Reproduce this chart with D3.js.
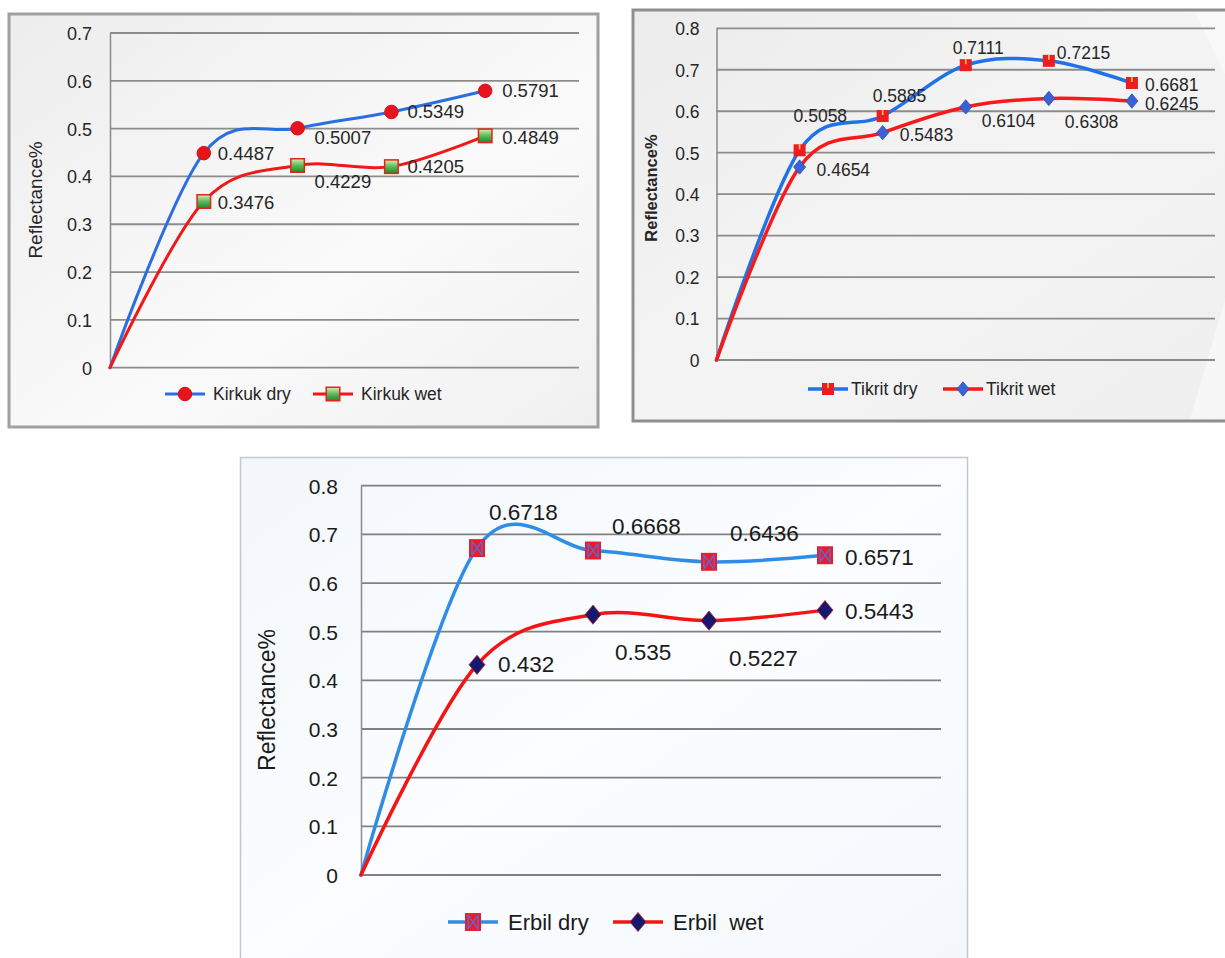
<!DOCTYPE html>
<html><head><meta charset="utf-8">
<script src="https://cdn.jsdelivr.net/npm/d3@7"></script>
<style>html,body{margin:0;padding:0;background:#fff;} svg{display:block}</style>
</head><body>
<svg id="chart" width="1225" height="958"></svg>
<script>
// Reflectance values; the first value of each series is the origin of the curve
const kirkukDry = [0, 0.4487, 0.5007, 0.5349, 0.5791];
const kirkukWet = [0, 0.3476, 0.4229, 0.4205, 0.4849];
const tikritDry = [0, 0.5058, 0.5885, 0.7111, 0.7215, 0.6681];
const tikritWet = [0, 0.4654, 0.5483, 0.6104, 0.6308, 0.6245];
const erbilDry  = [0, 0.6718, 0.6668, 0.6436, 0.6571];
const erbilWet  = [0, 0.432, 0.535, 0.5227, 0.5443];

// Y-axis tick values
const kirkukTicks = [0, 0.1, 0.2, 0.3, 0.4, 0.5, 0.6, 0.7];
const tikritTicks = [0, 0.1, 0.2, 0.3, 0.4, 0.5, 0.6, 0.7, 0.8];
const erbilTicks  = [0, 0.1, 0.2, 0.3, 0.4, 0.5, 0.6, 0.7, 0.8];

// Series names
const kirkukNames = ["Kirkuk dry", "Kirkuk wet"];
const tikritNames = ["Tikrit dry", "Tikrit wet"];
const erbilNames  = ["Erbil dry", "Erbil  wet"];
const axisTitle = "Reflectance%";

const svg = d3.select("#chart");
const defs = svg.append("defs");

function grad(id, stops, x2, y2) {
  const g = defs.append("linearGradient").attr("id", id)
    .attr("x1", 0).attr("y1", 0).attr("x2", x2).attr("y2", y2);
  stops.forEach(s => g.append("stop").attr("offset", s[0]).attr("stop-color", s[1]));
}
grad("bg1", [[0, "#ededed"], [0.45, "#f7f7f7"], [0.6, "#fafafa"], [1, "#f0f0f0"]], 1, 1);
grad("bg2", [[0, "#ececec"], [0.5, "#f4f4f4"], [1, "#efefef"]], 1, 1);
grad("bg3", [[0, "#f3f7fb"], [0.5, "#fbfdff"], [1, "#f4f8fc"]], 1, 1);
grad("greenFill", [[0, "#d8f0b0"], [0.5, "#5cb85c"], [1, "#1f8a2a"]], 0, 1);

// Marker painters
const markers = {
  circle(g, s) {
    g.append("circle").attr("r", s / 2).attr("fill", "#e8141c").attr("stroke", "#d0101a").attr("stroke-width", 1);
  },
  greenSquare(g, s) {
    g.append("rect").attr("x", -s / 2).attr("y", -s / 2).attr("width", s).attr("height", s)
      .attr("fill", "url(#greenFill)").attr("stroke", "#e2231a").attr("stroke-width", 1.5);
  },
  bangSquare(g, s) {
    g.append("rect").attr("x", -s / 2).attr("y", -s / 2).attr("width", s).attr("height", s)
      .attr("fill", "#ee1c1c");
    g.append("line").attr("x1", 0).attr("x2", 0).attr("y1", -s / 2).attr("y2", -1)
      .attr("stroke", "#f7c36a").attr("stroke-width", 1.6);
  },
  diamond(g, s) {
    g.append("path").attr("d", `M0,${-s * 0.6}L${s / 2},0L0,${s * 0.6}L${-s / 2},0Z`)
      .attr("fill", "#3b62d4").attr("stroke", "#2a4fb8").attr("stroke-width", 0.8);
  },
  xSquare(g, s) {
    const w = s, h = s * 1.12;
    g.append("rect").attr("x", -w / 2).attr("y", -h / 2).attr("width", w).attr("height", h)
      .attr("fill", "#ea1c2c");
    g.append("path").attr("d", `M${-w / 2 + 3},${-h / 2 + 2}L${w / 2 - 3},${h / 2 - 2}M${w / 2 - 3},${-h / 2 + 2}L${-w / 2 + 3},${h / 2 - 2}M${-w/2+3},${-h/2+2}L${-w/2+3},${h/2-2}M${w/2-3},${-h/2+2}L${w/2-3},${h/2-2}`)
      .attr("stroke", "#5a6bd8").attr("stroke-width", 1.3).attr("fill", "none");
  },
  darkDiamond(g, s) {
    g.append("path").attr("d", `M0,${-s * 0.6}L${s / 2},0L0,${s * 0.6}L${-s / 2},0Z`)
      .attr("fill", "#16186e").attr("stroke", "#c0202a").attr("stroke-width", 0.8);
  }
};

function drawPanel(p) {
  const g = svg.append("g");
  // frame
  g.append("rect").attr("x", p.frame[0]).attr("y", p.frame[1]).attr("width", p.frame[2]).attr("height", p.frame[3])
    .attr("fill", p.bg).attr("stroke", p.border).attr("stroke-width", p.borderW);
  if (p.sheen) g.append("path").attr("d", p.sheen).attr("fill", "#ffffff").attr("opacity", 0.45);

  const n = p.series[0].values.length;
  const x = d3.scaleLinear().domain([0, n]).range([p.left, p.right]);
  const y = d3.scaleLinear().domain([0, d3.max(p.ticks)]).range([p.bottom, p.top]);

  // horizontal gridlines
  g.append("g").selectAll("line").data(p.ticks).join("line")
    .attr("x1", p.left).attr("x2", p.right)
    .attr("y1", d => y(d)).attr("y2", d => y(d))
    .attr("stroke", p.gridColor).attr("stroke-width", p.gridW);

  // left axis with tick labels
  const ax = g.append("g").attr("transform", `translate(${p.left},0)`)
    .call(d3.axisLeft(y).tickValues(p.ticks).tickFormat(d3.format("")).tickSize(0).tickPadding(p.tickPad));
  ax.select(".domain").attr("stroke", p.axisColor).attr("stroke-width", 1.5);
  ax.selectAll("text").attr("font-family", p.font).attr("font-size", p.tickSize).attr("fill", p.textColor)
    .attr("dy", "0.36em");

  // axis title
  g.append("text").attr("transform", `translate(${p.titleX},${p.titleY}) rotate(-90)`)
    .attr("text-anchor", "middle").attr("dominant-baseline", "central")
    .attr("font-family", p.font).attr("font-size", p.titleSize).attr("font-weight", p.titleWeight)
    .attr("fill", p.textColor).text(axisTitle);

  const line = d3.line().x((d, i) => x(i)).y(d => y(d)).curve(d3.curveCardinal.tension(0));

  p.series.forEach(s => {
    g.append("path").datum(s.values).attr("d", line)
      .attr("fill", "none").attr("stroke", s.color).attr("stroke-width", p.lineW)
      .attr("stroke-linejoin", "round").attr("stroke-linecap", "round");
  });

  p.series.forEach(s => {
    s.values.forEach((v, i) => {
      if (i === 0) return;
      const m = g.append("g").attr("transform", `translate(${x(i)},${y(v)})`);
      markers[s.marker](m, p.markerSize);
      const off = s.labelOffset[i - 1];
      g.append("text").attr("x", x(i) + off[0]).attr("y", y(v) + off[1])
        .attr("dominant-baseline", "central")
        .attr("font-family", p.font).attr("font-size", p.labelSize).attr("fill", p.textColor)
        .text(v);
    });
  });

  // legend
  p.series.forEach((s, k) => {
    const lx = p.legend[k];
    const ly = p.legendY;
    g.append("line").attr("x1", lx).attr("x2", lx + p.legendLine).attr("y1", ly).attr("y2", ly)
      .attr("stroke", s.color).attr("stroke-width", p.lineW);
    const m = g.append("g").attr("transform", `translate(${lx + p.legendLine / 2},${ly})`);
    markers[s.marker](m, p.markerSize);
    g.append("text").attr("x", lx + p.legendLine + p.legendGap).attr("y", ly)
      .attr("dominant-baseline", "central").attr("xml:space", "preserve").style("white-space", "pre")
      .attr("font-family", p.font).attr("font-size", p.legendSize).attr("fill", p.textColor)
      .text(s.name);
  });
}

const FONT = "'Liberation Sans', Arial, sans-serif";

drawPanel({
  frame: [9, 14, 589, 413], bg: "url(#bg1)", border: "#a0a0a0", borderW: 3,
  sheen: null,
  left: 110, right: 579, top: 33, bottom: 367.7, ticks: kirkukTicks,
  gridColor: "#8c8c8c", gridW: 1.8, axisColor: "#8a8a8a",
  font: FONT, textColor: "#262626", tickSize: 18, tickPad: 18,
  titleX: 35, titleY: 200, titleSize: 19, titleWeight: 400,
  lineW: 3, markerSize: 13.5, labelSize: 18.5,
  series: [
    { name: kirkukNames[0], values: kirkukDry, color: "#2a6ee0", marker: "circle",
      labelOffset: [[14, 0], [17, 9], [16, 0], [17, 0]] },
    { name: kirkukNames[1], values: kirkukWet, color: "#f01818", marker: "greenSquare",
      labelOffset: [[14, 1], [17, 16], [16, 0], [17, 2]] }
  ],
  legend: [165, 313], legendY: 394, legendLine: 40, legendGap: 8, legendSize: 17.5
});

drawPanel({
  frame: [633, 10, 600, 411], bg: "url(#bg2)", border: "#8f8f8f", borderW: 3,
  sheen: "M1195,12 L1225,12 L1225,75 Z M1225,300 L1225,419 L1190,419 Z",
  left: 716.5, right: 1215, top: 28.3, bottom: 360, ticks: tikritTicks,
  gridColor: "#8c8c8c", gridW: 1.8, axisColor: "#8a8a8a",
  font: FONT, textColor: "#262626", tickSize: 17.5, tickPad: 17,
  titleX: 651, titleY: 188, titleSize: 16.5, titleWeight: 700,
  lineW: 3.5, markerSize: 12, labelSize: 17.5,
  series: [
    { name: tikritNames[0], values: tikritDry, color: "#1f73e6", marker: "bangSquare",
      labelOffset: [[-6, -34], [-10, -20], [-13, -17], [8, -8], [13, 2]] },
    { name: tikritNames[1], values: tikritWet, color: "#f61a1a", marker: "diamond",
      labelOffset: [[17, 3], [17, 2], [16, 14], [16, 24], [13, 3]] }
  ],
  legend: [808, 943], legendY: 389, legendLine: 40, legendGap: 3, legendSize: 17.5
});

drawPanel({
  frame: [240.5, 457.5, 727, 510], bg: "url(#bg3)", border: "#c4c8cc", borderW: 1.5,
  sheen: null,
  left: 361, right: 941, top: 485.7, bottom: 875, ticks: erbilTicks,
  gridColor: "#808080", gridW: 1.8, axisColor: "#8a8a8a",
  font: FONT, textColor: "#1a1a1a", tickSize: 21, tickPad: 23,
  titleX: 267, titleY: 700, titleSize: 23, titleWeight: 400,
  lineW: 3.5, markerSize: 16, labelSize: 22.5,
  series: [
    { name: erbilNames[0], values: erbilDry, color: "#2f8de6", marker: "xSquare",
      labelOffset: [[12, -36], [19, -24], [21, -28], [20, 2]] },
    { name: erbilNames[1], values: erbilWet, color: "#f41414", marker: "darkDiamond",
      labelOffset: [[21, 0], [22, 38], [20, 38], [20, 1]] }
  ],
  legend: [448, 613], legendY: 922, legendLine: 50, legendGap: 10, legendSize: 22
});
</script>
</body></html>
